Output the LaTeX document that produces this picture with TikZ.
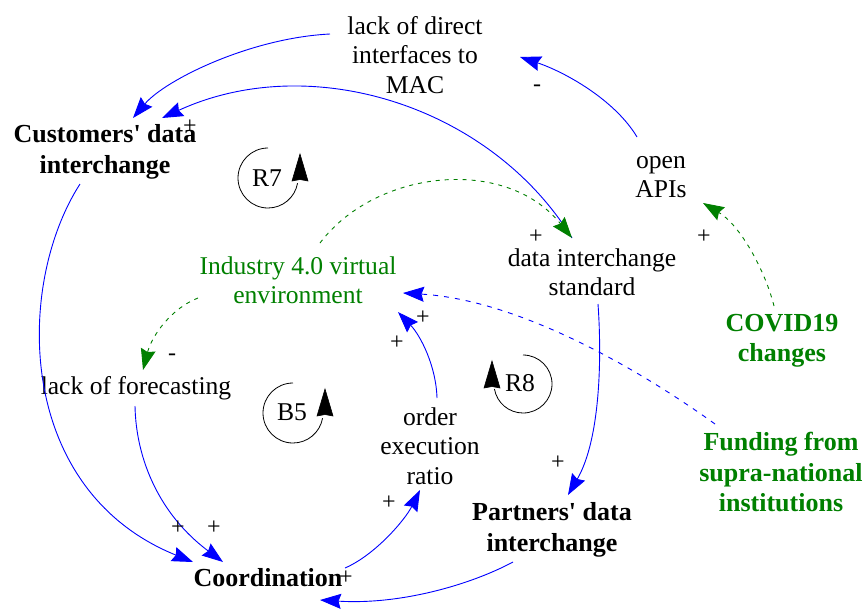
\documentclass[tikz,border=0pt]{standalone}
\usepackage{fontspec}
\newfontfamily\vsfont{Liberation Serif}
\usetikzlibrary{arrows.meta,calc}
\definecolor{linkblue}{RGB}{0,0,255}
\definecolor{exogreen}{RGB}{0,128,0}

\begin{document}
\begin{tikzpicture}[x=1pt,y=-1pt,
  var/.style={font=\vsfont\fontsize{25.6}{29.5}\selectfont, align=center, inner sep=0pt, text=black},
  keyvar/.style={var, font=\vsfont\bfseries\fontsize{26}{30.5}\selectfont},
  exo/.style={var, text=exogreen},
  exokey/.style={keyvar, text=exogreen},
  pol/.style={font=\vsfont\fontsize{24}{24}\selectfont, inner sep=0pt},
  looplabel/.style={var},
  loopline/.style={black, line width=0.8pt},
  loophead/.style={fill=black, draw=black, line width=0.6pt, line join=miter},
  tiphead/.style={-{Stealth[length=21pt,width=15pt,inset=2.5pt]}},
  link/.style={linkblue, line width=0.9pt, tiphead},
  dlink/.style={linkblue, line width=0.9pt, dash pattern=on 5pt off 6pt, tiphead},
  glink/.style={exogreen, line width=0.9pt, dash pattern=on 4pt off 5pt, tiphead},
]
\fill[white] (0,0) rectangle (866,608);
\useasboundingbox (0,0) rectangle (866,608);

% variables
\node[var]     (mac)   at (415,55)  {lack of direct\\interfaces to\\MAC};
\node[keyvar]  (cust)  at (105,152) {Customers' data\\interchange};
\node[var]     (apis)  at (661,177) {open\\APIs};
\node[var]     (dis)   at (592,272) {data interchange\\standard};
\node[exo]     (ind)   at (298,280) {Industry 4.0 virtual\\environment};
\node[var]     (lof)   at (136,388) {lack of forecasting};
\node[var]     (oer)   at (430,446) {order\\execution\\ratio};
\node[keyvar]  (part)  at (552,530) {Partners' data\\interchange};
\node[exokey]  (covid) at (782,341) {COVID19\\changes};
\node[exokey]  (fund)  at (781,472) {Funding from\\supra-national\\institutions};
\node[keyvar]  (coord) at (268,578) {Coordination};

% causal links
\draw[link]  ($(mac)+(-85,-21)$) .. controls (250,38) and (165,80) .. ($(cust)+(28,-34)$);
\draw[link]  ($(dis)+(-20,-34)$) .. controls (490,105) and (310,50) .. ($(cust)+(57,-34)$);
\draw[link]  ($(apis)+(-24,-40)$) .. controls (615,100) and (565,72) .. ($(mac)+(105,2)$);
\draw[glink] ($(covid)+(-8,-35)$) .. controls (765,270) and (740,225) .. ($(apis)+(42,26)$);
\draw[glink] ($(ind)+(22,-37)$) .. controls (375,170) and (505,155) .. ($(dis)+(-20,-34)$);
\draw[glink] ($(ind)+(-100,18)$) .. controls (172,308) and (152,335) .. ($(lof)+(7,-18)$);
\draw[dlink] ($(fund)+(-66,-48)$) .. controls (640,370) and (520,300) .. ($(ind)+(105,13)$);
\draw[link]  ($(oer)+(7,-48)$) .. controls (436,365) and (420,335) .. ($(ind)+(100,32)$);
\draw[link]  ($(coord)+(77,-10)$) .. controls (375,555) and (405,520) .. ($(oer)+(-10,44)$);
\draw[link]  ($(part)+(-39,32)$) .. controls (470,585) and (400,605) .. ($(coord)+(52,22)$);
\draw[link]  ($(dis)+(6,32)$) .. controls (602,360) and (600,440) .. ($(part)+(16,-35)$);
\draw[link]  ($(cust)+(-25,32)$) .. controls (15,285) and (15,490) .. ($(coord)+(-75,-16)$);
\draw[link]  ($(lof)+(-1,18)$) .. controls (136,460) and (160,515) .. ($(coord)+(-45,-16)$);

% link polarities
\node[pol] (p1)  at (190,127) {+};
\node[pol] (p2)  at (537,88)  {-};
\node[pol] (p3)  at (536,237) {+};
\node[pol] (p4)  at (704,237) {+};
\node[pol] (p5)  at (172,357) {-};
\node[pol] (p6)  at (423,318) {+};
\node[pol] (p7)  at (397,343) {+};
\node[pol] (p8)  at (389,503) {+};
\node[pol] (p9)  at (178,528) {+};
\node[pol] (p10) at (214,528) {+};
\node[pol] (p11) at (346,578) {+};
\node[pol] (p12) at (558,463) {+};

% loop markers
\node[looplabel] (r7) at (267,178) {R7};
\draw[loopline] ($(r7)+(1,-30)$) arc[start angle=-90, end angle=-350, radius=30];
\path[loophead] ($(r7)+(33,-24)$) -- ($(r7)+(25,3)$) -- ($(r7)+(33,1.5)$) -- ($(r7)+(41,3)$) -- cycle;

\node[looplabel] (b5) at (292,412) {B5};
\draw[loopline] ($(b5)+(1,-29)$) arc[start angle=-90, end angle=-350, radius=30];
\path[loophead] ($(b5)+(33,-23)$) -- ($(b5)+(25,4)$) -- ($(b5)+(33,2.5)$) -- ($(b5)+(41,4)$) -- cycle;

\node[looplabel] (r8) at (520,383) {R8};
\draw[loopline] ($(r8)+(3,-28)$) arc[start angle=-90, end angle=170, radius=29];
\path[loophead] ($(r8)+(-28,-22)$) -- ($(r8)+(-36,5)$) -- ($(r8)+(-28,3.5)$) -- ($(r8)+(-20,5)$) -- cycle;
\end{tikzpicture}
\end{document}
